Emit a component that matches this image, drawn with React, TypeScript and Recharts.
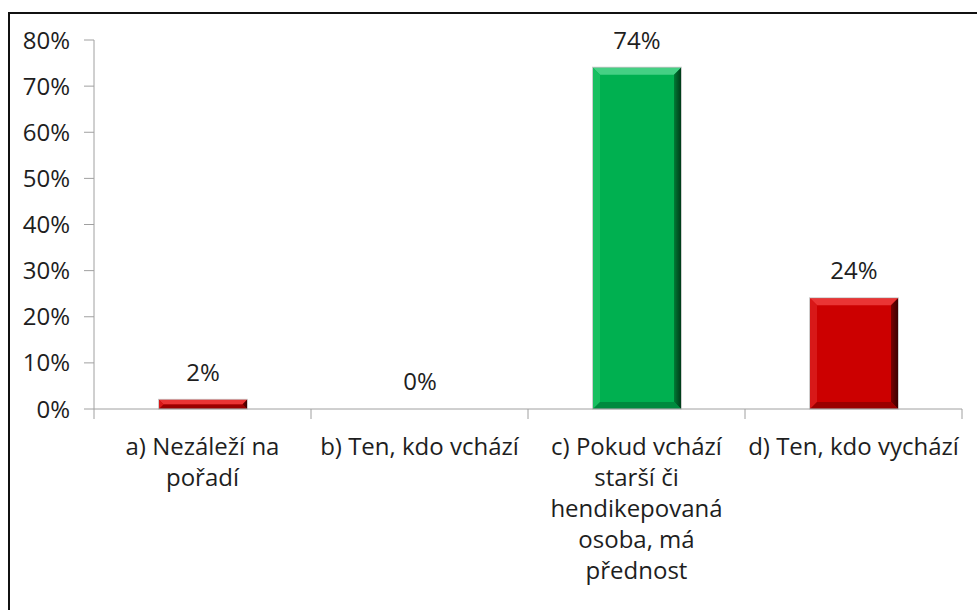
import React from "react";
import { BarChart, Bar, XAxis, YAxis, Cell, LabelList } from "recharts";

const categories: string[] = [
  "a) Nezáleží na\npořadí",
  "b) Ten, kdo vchází",
  "c) Pokud vchází\nstarší či\nhendikepovaná\nosoba, má\npřednost",
  "d) Ten, kdo vychází",
];
const values: number[] = [2, 0, 74, 24];
const barColors: string[] = ["red", "red", "green", "red"];
const yTicks: number[] = [0, 10, 20, 30, 40, 50, 60, 70, 80];

const data = categories.map((c, i) => ({ name: c, value: values[i], color: barColors[i] }));

const FONT = "'Open Sans', 'DejaVu Sans', sans-serif";
const TEXT = "#1e1e1e";
const AXIS = "#a0a0a0";
const FONT_SIZE = 24;

const CHART_W = 967;
const CHART_H = 596;
const MARGIN = { top: 26, right: 15, left: 0, bottom: 11 };
const Y_W = 84;
const PLOT_W = CHART_W - MARGIN.left - MARGIN.right - Y_W;
const BAND = PLOT_W / categories.length;

const palettes: Record<string, { base: string; top: string; left: string; right: string; rightDark: string; bottom: string }> = {
  red: { base: "#cc0000", top: "#ea3434", left: "#d81818", right: "#7a0000", rightDark: "#3a0000", bottom: "#9a0000" },
  green: { base: "#00b050", top: "#45d084", left: "#18bf60", right: "#007a34", rightDark: "#003a18", bottom: "#008a3e" },
};

const BevelBar = (props: any) => {
  const { x, y, width, height, payload } = props;
  if (!height || height <= 0) return null;
  const p = palettes[payload.color];
  const b = Math.min(7, height / 2, width / 2);
  const x2 = x + width;
  const y2 = y + height;
  const gid = `rg-${payload.color}`;
  return (
    <g>
      <defs>
        <linearGradient id={gid} x1="0" y1="0" x2="1" y2="0">
          <stop offset="0%" stopColor={p.right} />
          <stop offset="100%" stopColor={p.rightDark} />
        </linearGradient>
      </defs>
      <rect x={x} y={y} width={width} height={height} fill={p.base} />
      <polygon points={`${x},${y} ${x2},${y} ${x2 - b},${y + b} ${x + b},${y + b}`} fill={p.top} />
      <polygon points={`${x},${y} ${x + b},${y + b} ${x + b},${y2 - b} ${x},${y2}`} fill={p.left} />
      <polygon points={`${x2},${y} ${x2},${y2} ${x2 - b},${y2 - b} ${x2 - b},${y + b}`} fill={`url(#${gid})`} />
      <polygon points={`${x},${y2} ${x2},${y2} ${x2 - b},${y2 - b} ${x + b},${y2 - b}`} fill={p.bottom} />
      <rect x={x - 0.5} y={y - 0.5} width={width + 1} height={height + 0.5} fill="none" stroke="#9a9a9a" strokeWidth={0.8} strokeOpacity={0.6} />
    </g>
  );
};

const CategoryTick = (props: any) => {
  const { x, y, payload, index } = props;
  const lines: string[] = String(payload.value).split("\n");
  const left = x - BAND / 2;
  const right = x + BAND / 2;
  return (
    <g>
      <line x1={left} y1={y} x2={left} y2={y + 10} stroke={AXIS} strokeWidth={1} />
      {index === categories.length - 1 && (
        <line x1={right} y1={y} x2={right} y2={y + 10} stroke={AXIS} strokeWidth={1} />
      )}
      <text x={x} y={y + 46} textAnchor="middle" fill={TEXT} fontSize={FONT_SIZE} fontFamily={FONT}>
        {lines.map((l, i) => (
          <tspan key={i} x={x} dy={i === 0 ? 0 : 31}>
            {l}
          </tspan>
        ))}
      </text>
    </g>
  );
};

export default function App() {
  return (
    <>
      <style>{"html,body{overflow:hidden;}"}</style>
      <div
        style={{
          position: "absolute",
          left: 8,
          top: 12,
          width: 969,
          height: 598,
          borderLeft: "2px solid #111",
          borderTop: "2px solid #111",
          boxSizing: "border-box",
          background: "#fff",
        }}
      >
        <BarChart width={CHART_W} height={CHART_H} data={data} margin={MARGIN}>
          <XAxis
            dataKey="name"
            interval={0}
            axisLine={{ stroke: AXIS, strokeWidth: 1 }}
            tickLine={false}
            tickSize={0}
            tickMargin={0}
            height={190}
            tick={<CategoryTick />}
          />
          <YAxis
            width={Y_W}
            domain={[0, 80]}
            ticks={yTicks}
            interval={0}
            axisLine={{ stroke: AXIS, strokeWidth: 1 }}
            tickLine={{ stroke: AXIS, strokeWidth: 1 }}
            tickSize={10}
            tickMargin={14}
            tickFormatter={(v: number) => `${v}%`}
            tick={{ fill: TEXT, fontSize: FONT_SIZE, fontFamily: FONT }}
          />
          <Bar dataKey="value" barSize={88} isAnimationActive={false} shape={<BevelBar />}>
            {data.map((d, i) => (
              <Cell key={i} fill={d.color === "green" ? "#00b050" : "#cc0000"} />
            ))}
            <LabelList
              dataKey="value"
              position="top"
              offset={19}
              formatter={(v: any) => `${v}%`}
              fill={TEXT}
              fontSize={FONT_SIZE}
              fontFamily={FONT}
            />
          </Bar>
        </BarChart>
      </div>
    </>
  );
}
